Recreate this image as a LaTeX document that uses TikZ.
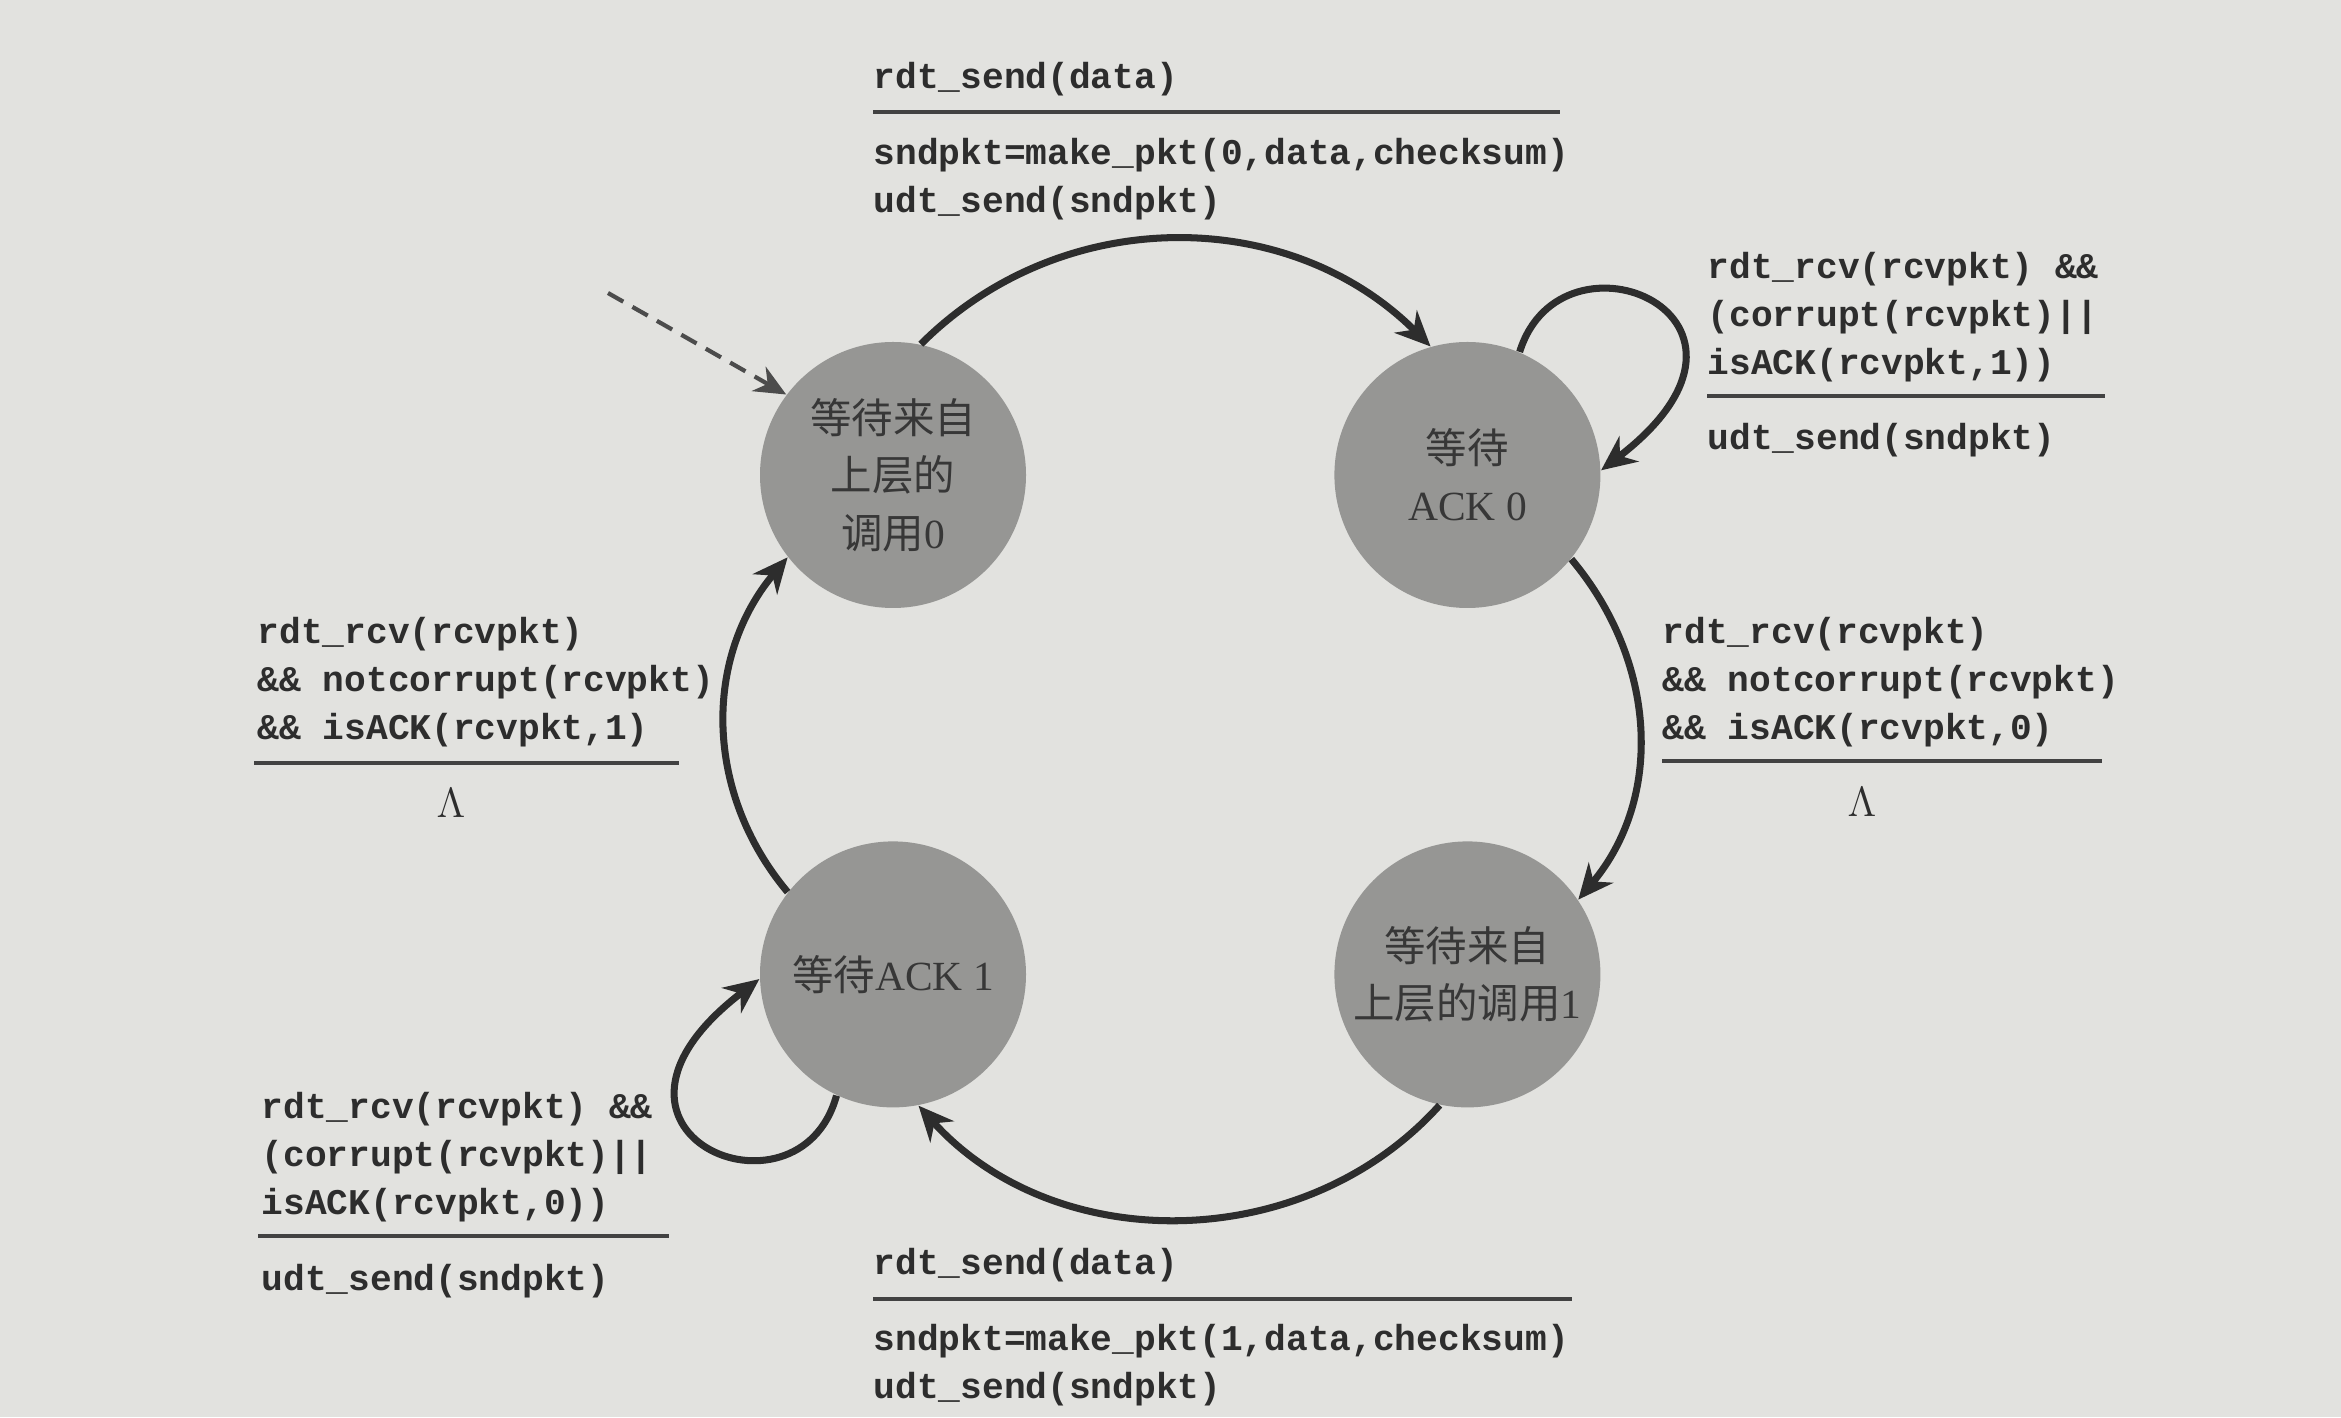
\documentclass[tikz,border=0pt]{standalone}
\usepackage{fontspec}
\setmainfont{Liberation Serif}
\setmonofont{Liberation Mono}
\newfontfamily\cjk{Noto Sans CJK SC}
\usetikzlibrary{positioning,arrows.meta,calc}
\definecolor{fsmBack}{RGB}{226,226,223}
\definecolor{fsmFill}{RGB}{150,150,148}
\definecolor{fsmInk}{RGB}{45,45,45}
\definecolor{fsmText}{RGB}{55,55,55}

\begin{document}
\begin{tikzpicture}[
  fsmstate/.style={circle, fill=fsmFill, minimum size=2.66cm, inner sep=0pt, align=center, text=fsmText, font=\fontsize{11.8}{16.3}\selectfont},
  code/.style={anchor=west, inner sep=0pt, align=left, text=fsmInk, font=\ttfamily\bfseries\fontsize{10.3}{13.6}\selectfont},
  rulebar/.style={fsmInk!90, line width=1.2pt},
  trans/.style={fsmInk, line width=2pt, -{Stealth[length=10pt,width=9pt]}},
  lam/.style={text=fsmInk, font=\fontsize{12}{14}\selectfont}
]
  % background, page size
  \fill[fsmBack] (0,0) rectangle (23.41,14.17);
  \useasboundingbox (0,0) rectangle (23.41,14.17);

  % states
  \node[fsmstate] (A) at (8.93,9.42) {{\cjk 等待来自}\\{\cjk 上层的}\\{\cjk 调用}0};
  \node[fsmstate, right=3.07cm of A] (B) {{\cjk 等待}\\ACK 0};
  \node[fsmstate, below=2.32cm of A] (C) {{\cjk 等待}ACK 1};
  \node[fsmstate, below=2.32cm of B] (D) {{\cjk 等待来自}\\{\cjk 上层的调用}1};

  % initial transition
  \coordinate (init) at (6.08,11.24);
  \draw[fsmInk!85, line width=1.2pt, dash pattern=on 5pt off 3pt, -{Stealth[length=9pt,width=8pt]}] (init) -- (A.143);

  % transitions
  \draw[trans] (A.78) to[out=45,in=135] (B.106);
  \draw[trans] (B.67) .. controls ($(B)+(0.94,2.58)$) and ($(B)+(3.34,1.58)$) .. (B.2);
  \draw[trans] (B.-39) to[out=-50,in=50] (D.34);
  \draw[trans] (D.-102) to[out=-132,in=-48] (C.-79);
  \draw[trans] (C.142) to[out=130,in=-130] (A.-142);
  \draw[trans] (C.245) .. controls ($(C)+(-0.94,-2.58)$) and ($(C)+(-3.34,-1.58)$) .. (C.182);

  % A -> B
  \node[code] (gAB) at (8.73,13.38) {rdt\_send(data)};
  \draw[rulebar] (8.73,13.05) -- ++(6.87,0);
  \node[code] (aAB) at (8.73,12.38) {sndpkt=make\_pkt(0,data,checksum)\\udt\_send(sndpkt)};

  % B -> B
  \node[code] (gBB) at (17.07,11.00) {rdt\_rcv(rcvpkt) \&\&\\(corrupt(rcvpkt)||\\isACK(rcvpkt,1))};
  \draw[rulebar] (17.07,10.21) -- ++(3.98,0);
  \node[code] (aBB) at (17.07,9.77) {udt\_send(sndpkt)};

  % B -> D
  \node[code] (gBD) at (16.62,7.35) {rdt\_rcv(rcvpkt)\\\&\& notcorrupt(rcvpkt)\\\&\& isACK(rcvpkt,0)};
  \draw[rulebar] (16.62,6.56) -- ++(4.40,0);
  \node[lam] (aBD) at (18.62,6.15) {$\Lambda$};

  % C -> A
  \node[code] (gCA) at (2.57,7.35) {rdt\_rcv(rcvpkt)\\\&\& notcorrupt(rcvpkt)\\\&\& isACK(rcvpkt,1)};
  \draw[rulebar] (2.54,6.54) -- ++(4.25,0);
  \node[lam] (aCA) at (4.51,6.14) {$\Lambda$};

  % C -> C
  \node[code] (gCC) at (2.61,2.60) {rdt\_rcv(rcvpkt) \&\&\\(corrupt(rcvpkt)||\\isACK(rcvpkt,0))};
  \draw[rulebar] (2.58,1.81) -- ++(4.11,0);
  \node[code] (aCC) at (2.61,1.36) {udt\_send(sndpkt)};

  % D -> C
  \node[code] (gDC) at (8.73,1.52) {rdt\_send(data)};
  \draw[rulebar] (8.73,1.18) -- ++(6.99,0);
  \node[code] (aDC) at (8.73,0.52) {sndpkt=make\_pkt(1,data,checksum)\\udt\_send(sndpkt)};
\end{tikzpicture}
\end{document}
